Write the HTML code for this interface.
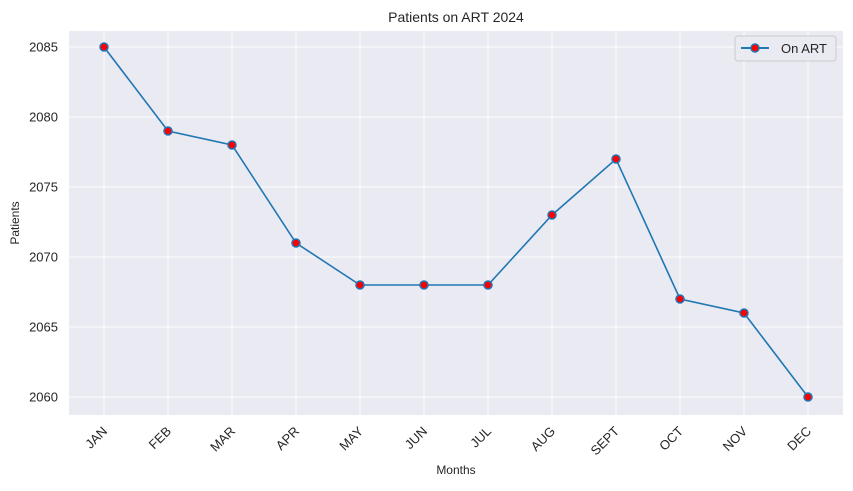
<!DOCTYPE html>
<html><head><meta charset="utf-8"><style>
body{margin:0;background:#fff;font-family:"Liberation Sans",sans-serif;}
svg text{font-family:"Liberation Sans",sans-serif;fill:#262626;}
</style></head><body>
<svg id="chart" width="853" height="486">
<rect x="0" y="0" width="853" height="486" fill="#fff"/>
<rect id="plotbg" x="69" y="31" width="774" height="384" fill="#eaeaf2"/>
<g id="grid"></g><g id="ticks"></g><g id="series"></g>
<text x="456" y="22" font-size="14" text-anchor="middle">Patients on ART 2024</text>
<text x="456" y="474" font-size="12" text-anchor="middle">Months</text>
<text x="19" y="223" font-size="12" text-anchor="middle" transform="rotate(-90 19 223)">Patients</text>
<g>
<rect x="735" y="36" width="101" height="25" rx="3" fill="#eaeaf2" stroke="#cccccc" stroke-width="1"/>
<line x1="741" y1="48" x2="769" y2="48" stroke="#1f77b4" stroke-width="2"/>
<circle cx="755" cy="48" r="4" fill="red" stroke="#1f77b4" stroke-width="1.5"/>
<text x="781" y="53" font-size="13">On ART</text>
</g>
</svg>
<script>
const categories=["JAN","FEB","MAR","APR","MAY","JUN","JUL","AUG","SEPT","OCT","NOV","DEC"];
const values=[2085,2079,2078,2071,2068,2068,2068,2073,2077,2067,2066,2060];
const yTicks=[2060,2065,2070,2075,2080,2085];
const NS="http://www.w3.org/2000/svg";
function x(i){return 104+i*64;}
function y(v){return 397-(v-2060)*14;}
function mk(tag,attrs,parent){const e=document.createElementNS(NS,tag);for(const k in attrs)e.setAttribute(k,attrs[k]);parent.appendChild(e);return e;}
const grid=document.getElementById('grid'),ticks=document.getElementById('ticks'),series=document.getElementById('series');
categories.forEach((c,i)=>{
 const g=mk('line',{x1:x(i),x2:x(i),y1:31,y2:415,stroke:'#fff','stroke-width':1},grid);
 
 
 const t=mk('text',{x:x(i)+4,y:432,'font-size':13,'text-anchor':'end',transform:`rotate(-45 ${x(i)+4} 432)`},ticks);
 t.textContent=c;
 
 
});
yTicks.forEach(v=>{
 const g=mk('line',{x1:69,x2:843,y1:y(v),y2:y(v),stroke:'#fff','stroke-width':1},grid);
 
 
 const t=mk('text',{x:58,y:y(v)+4.5,'font-size':13,'text-anchor':'end'},ticks);
 t.textContent=v;
 
 
});
const pl=mk('polyline',{points:values.map((v,i)=>x(i)+','+y(v)).join(' '),fill:'none',stroke:'#1f77b4','stroke-width':1.6},series);


values.forEach((v,i)=>{
 const c=mk('circle',{cx:x(i),cy:y(v),r:4,fill:'red',stroke:'#1f77b4','stroke-width':1.5},series);
 
 
});
</script>
</body></html>
